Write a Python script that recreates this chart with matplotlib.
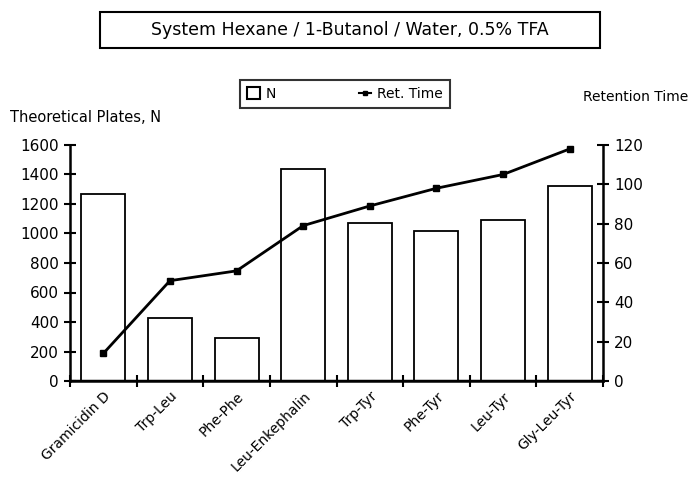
import matplotlib.pyplot as plt
from matplotlib.patches import Rectangle
from matplotlib.lines import Line2D

# data
peptides = ['Gramicidin D', 'Trp-Leu', 'Phe-Phe', 'Leu-Enkephalin',
            'Trp-Tyr', 'Phe-Tyr', 'Leu-Tyr', 'Gly-Leu-Tyr']
plates = [1265, 425, 290, 1440, 1070, 1020, 1090, 1320]
ret_time = [14, 51, 56, 79, 89, 98, 105, 118]

plate_ticks = [0, 200, 400, 600, 800, 1000, 1200, 1400, 1600]
time_ticks = [0, 20, 40, 60, 80, 100, 120]

plt.rcParams['font.family'] = 'DejaVu Sans'

fig = plt.figure(figsize=(6.91, 4.91), dpi=100)
ax = fig.add_axes([70 / 691, 1 - 381 / 491, 533 / 691, 236 / 491])
ax2 = ax.twinx()

x = list(range(len(peptides)))
ax.bar(x, plates, width=0.66, facecolor='white', edgecolor='black', linewidth=1.3, zorder=2)
ax.axhline(0, color='black', linewidth=2.5, zorder=3)
ax2.plot(x, ret_time, color='black', linewidth=2, marker='s', markersize=4, zorder=4)

ax.set_xlim(-0.5, len(peptides) - 0.5)
ax.set_ylim(0, 1600)
ax2.set_ylim(0, 120)
ax.set_yticks(plate_ticks)
ax2.set_yticks(time_ticks)

# ticks at category boundaries, labels rotated under centres
ax.set_xticks([i - 0.5 for i in range(len(peptides) + 1)])
ax.set_xticklabels([])
ax.set_xticks(x, minor=True)
ax.set_xticklabels(peptides, minor=True, rotation=45, ha='right', va='top',
                   rotation_mode='anchor', fontsize=10)
ax.tick_params(axis='x', which='minor', length=0, pad=6)
ax.tick_params(axis='x', which='major', direction='inout', length=8, width=1.5)
ax.tick_params(axis='y', direction='inout', length=9, width=1.5, labelsize=11)
ax2.tick_params(axis='y', direction='inout', length=9, width=1.5, labelsize=11)

for a in (ax, ax2):
    a.spines['top'].set_visible(False)
    for s in ('left', 'right', 'bottom'):
        a.spines[s].set_linewidth(1.8)
ax.spines['right'].set_visible(False)
ax2.spines['left'].set_visible(False)
ax2.spines['bottom'].set_visible(False)

fig.text(10 / 691, 1 - 118 / 491, 'Theoretical Plates, N', fontsize=10.5, va='center')
fig.text(688 / 691, 1 - 97 / 491, 'Retention Time', fontsize=10, ha='right', va='center')

# boxed title
fig.patches.append(Rectangle((100 / 691, 1 - 48 / 491), 500 / 691, 36 / 491,
                             transform=fig.transFigure, facecolor='white',
                             edgecolor='black', linewidth=1.5))
fig.text(350 / 691, 1 - 30 / 491, 'System Hexane / 1-Butanol / Water, 0.5% TFA',
         fontsize=12.5, ha='center', va='center')

handles = [Rectangle((0, 0), 1, 1, facecolor='white', edgecolor='black', linewidth=1.5),
           Line2D([], [], color='black', linewidth=1.5, marker='s', markersize=3)]
leg = fig.legend(handles, ['N', 'Ret. Time'], loc='center', ncol=2,
                 bbox_to_anchor=(345 / 691, 1 - 94 / 491), frameon=True,
                 fancybox=False, edgecolor='black', fontsize=10,
                 columnspacing=6, handlelength=0.9, handleheight=0.9,
                 handletextpad=0.4, borderpad=0.5)
leg.get_frame().set_linewidth(1.5)

fig.savefig('out.png', dpi=100)
